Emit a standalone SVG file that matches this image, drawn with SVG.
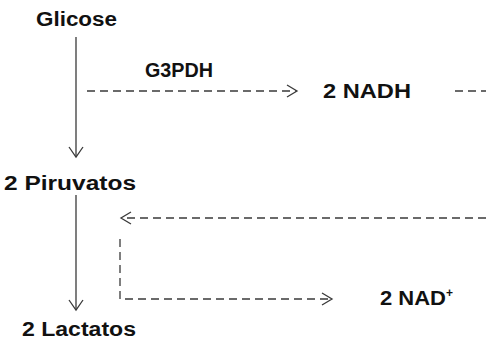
<svg xmlns="http://www.w3.org/2000/svg" width="486" height="343" viewBox="0 0 486 343">
<style>
  text { font-family: "Liberation Sans", Arial, sans-serif; font-weight: bold; font-size: 20px; fill: #111; }
  .solid { stroke: #3a3a3a; stroke-width: 1.3; fill: none; }
  .dash { stroke: #3a3a3a; stroke-width: 1.3; fill: none; stroke-dasharray: 8 5; }
  .head { stroke: #3a3a3a; stroke-width: 1.3; fill: none; }
</style>
<rect width="486" height="343" fill="#fff"/>
<g id="connectors">
  <line class="solid" x1="76" y1="37" x2="76" y2="157"/>
  <polyline class="head" points="69,147 76,157 83,147"/>
  <line class="solid" x1="76" y1="195" x2="76" y2="310"/>
  <polyline class="head" points="69,300 76,310 83,300"/>
  <line class="dash" x1="87" y1="91" x2="296" y2="91"/>
  <polyline class="head" points="287,85 297,91 287,97"/>
  <line class="dash" x1="455" y1="91" x2="486" y2="91"/>
  <line class="dash" x1="486" y1="218" x2="123" y2="218"/>
  <polyline class="head" points="131,212 121,218 131,224"/>
  <polyline class="dash" points="120,239 120,299 330,299"/>
  <polyline class="head" points="322,293 332,299 322,305"/>
</g>
<g id="glicose"><text x="36" y="26" textLength="81" lengthAdjust="spacingAndGlyphs">Glicose</text></g>
<g id="g3pdh"><text x="145" y="77" textLength="68" lengthAdjust="spacingAndGlyphs">G3PDH</text></g>
<g id="nadh"><text x="323" y="98" textLength="88" lengthAdjust="spacingAndGlyphs">2 NADH</text></g>
<g id="piruvatos"><text x="4" y="190" textLength="132" lengthAdjust="spacingAndGlyphs">2 Piruvatos</text></g>
<g id="nad"><text x="380" y="305"><tspan textLength="66" lengthAdjust="spacingAndGlyphs">2 NAD</tspan><tspan font-size="12" dy="-8">+</tspan></text></g>
<g id="lactatos"><text x="22" y="336" textLength="114" lengthAdjust="spacingAndGlyphs">2 Lactatos</text></g>
</svg>
